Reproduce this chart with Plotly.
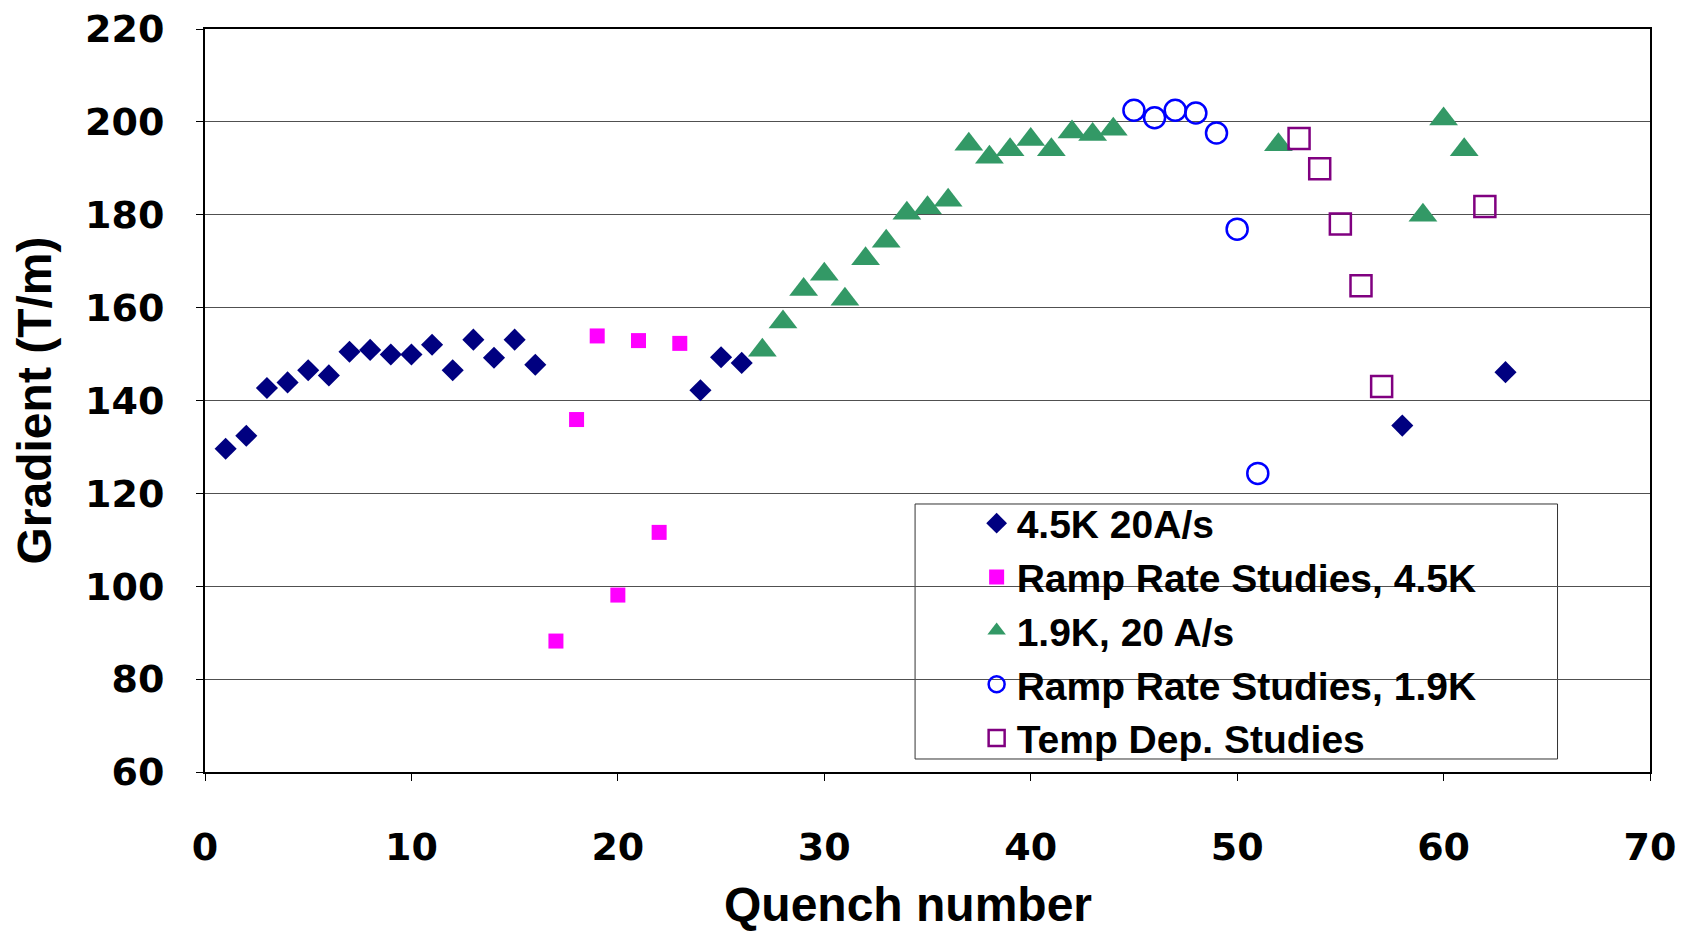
import plotly.graph_objects as go

# ---- data ----
diam_x = [1, 2, 3, 4, 5, 6, 7, 8, 9, 10, 11, 12, 13, 14, 15, 16, 24, 25, 26, 58, 63]
diam_y = [129.6, 132.4, 142.7, 143.9, 146.5, 145.4, 150.5, 150.9, 149.9, 149.9, 152.0, 146.5,
          153.1, 149.2, 153.1, 147.7, 142.2, 149.3, 148.1, 134.6, 146.1]

ramp45_x = [17, 18, 19, 20, 21, 22, 23]
ramp45_y = [88.2, 135.9, 153.9, 98.1, 152.9, 111.6, 152.3]

tri_x = [27, 28, 29, 30, 31, 32, 33, 34, 35, 36, 37, 38, 39, 40, 41, 42, 43, 44, 52, 59, 60, 61]
tri_y = [150.8, 156.9, 163.9, 167.2, 161.8, 170.5, 174.3, 180.3, 181.5, 183.1, 195.2, 192.4,
         194.0, 196.2, 194.0, 197.8, 197.3, 198.4, 195.1, 179.9, 200.6, 194.0]

ramp19_x = [45, 46, 47, 48, 49, 50, 51]
ramp19_y = [202.5, 200.9, 202.5, 201.9, 197.6, 176.9, 124.3]

temp_x = [53, 54, 55, 56, 57, 62]
temp_y = [196.4, 189.9, 178.0, 164.7, 143.0, 181.8]

names = ["4.5K 20A/s", "Ramp Rate Studies, 4.5K", "1.9K, 20 A/s",
         "Ramp Rate Studies, 1.9K", "Temp Dep. Studies"]

x_ticks = [0, 10, 20, 30, 40, 50, 60, 70]
y_ticks = [60, 80, 100, 120, 140, 160, 180, 200, 220]

x_title = "Quench number"
y_title = "Gradient (T/m)"

fig = go.Figure()
fig.add_trace(go.Scatter(x=diam_x, y=diam_y, mode="markers", name=names[0],
                         marker=dict(symbol="diamond", size=17, color="#000080",
                                     line=dict(width=0))))
fig.add_trace(go.Scatter(x=ramp45_x, y=ramp45_y, mode="markers", name=names[1],
                         marker=dict(symbol="square", size=15, color="#FF00FF",
                                     line=dict(width=0))))
fig.add_trace(go.Scatter(x=tri_x, y=tri_y, mode="markers", name=names[2],
                         marker=dict(symbol="triangle-up", size=25, color="#339966",
                                     line=dict(width=0))))
fig.add_trace(go.Scatter(x=ramp19_x, y=ramp19_y, mode="markers", name=names[3],
                         marker=dict(symbol="circle-open", size=21, color="#0000FF",
                                     line=dict(width=2.5))))
fig.add_trace(go.Scatter(x=temp_x, y=temp_y, mode="markers", name=names[4],
                         marker=dict(symbol="square-open", size=21, color="#800080",
                                     line=dict(width=2.5))))

# legend frame
fig.add_shape(type="rect", xref="paper", yref="paper",
              x0=0.4914, x1=0.936, y0=0.0175, y1=0.3607,
              line=dict(color="#333333", width=1), fillcolor="white", layer="below")

# x-axis title (placed slightly left of centre, as in the reference)
fig.add_annotation(text=x_title, xref="paper", yref="paper", x=0.4862, y=-0.179,
                   xanchor="center", yanchor="middle", showarrow=False,
                   font=dict(family="Liberation Sans", size=48, color="black", weight="bold"))

tick_font = dict(family="DejaVu Sans", size=38, color="black", weight="bold")
fig.update_layout(
    width=1686, height=936,
    margin=dict(l=205, r=36, t=29, b=164),
    paper_bgcolor="white", plot_bgcolor="white",
    showlegend=True,
    legend=dict(x=0.534, y=0.3777, xanchor="left", yanchor="top",
                bgcolor="rgba(0,0,0,0)", borderwidth=0,
                font=dict(family="Liberation Sans", size=39, color="black", weight="bold"),
                itemsizing="trace", tracegroupgap=0),
    xaxis=dict(range=[0, 70], tickvals=x_ticks, ticktext=[str(v) for v in x_ticks],
               showgrid=False, zeroline=False, automargin=False,
               showline=True, linecolor="black", linewidth=2, mirror=True,
               ticks="outside", ticklen=7, tickcolor="black", tickwidth=1,
               ticklabelstandoff=33,
               tickfont=tick_font),
    yaxis=dict(range=[60, 220], tickvals=y_ticks, ticktext=[str(v) for v in y_ticks],
               showgrid=True, gridcolor="#505050", gridwidth=1, zeroline=False,
               automargin=False,
               showline=True, linecolor="black", linewidth=2, mirror=True,
               ticks="outside", ticklen=7, tickcolor="black", tickwidth=1,
               ticklabelstandoff=24,
               tickfont=tick_font,
               title=dict(text=y_title,
                          font=dict(family="Liberation Sans", size=48, color="black",
                                    weight="bold"),
                          standoff=18)),
)

fig.write_html("out.html")
